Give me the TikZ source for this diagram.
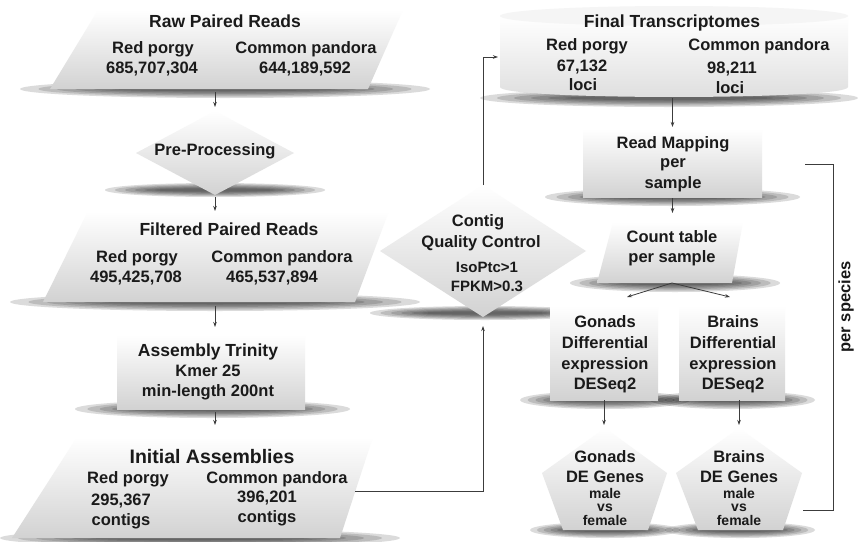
\documentclass[tikz,border=0pt]{standalone}
\usepackage{fontspec}
\setmainfont{Liberation Sans}
\usetikzlibrary{arrows.meta}
\definecolor{ink}{HTML}{1A1A1A}
\definecolor{fillbot}{HTML}{D2D2D2}
\definecolor{cyltop}{HTML}{F5F5F5}
\newcommand{\softshade}[4]{%
  \foreach \k in {0,...,5}{%
    \fill[black, opacity=0.14] ({(#1+#2)/2},#3) ellipse [x radius={(#2-#1)/2*(1-0.09*\k)}, y radius={#4*(1-0.15*\k)}];
  }%
}
\tikzset{
  bb/.style={inner sep=0pt, outer sep=0pt, draw=none},
  tx/.style={anchor=base, text=ink, inner sep=0pt, font=\fontsize{16.5}{18}\selectfont\bfseries},
  ttl/.style={tx, font=\fontsize{17.5}{19}\selectfont\bfseries},
  bigttl/.style={tx, font=\fontsize{19.5}{21}\selectfont\bfseries},
  sm/.style={tx, font=\fontsize{15}{17}\selectfont\bfseries},
  tiny/.style={tx, font=\fontsize{14}{15}\selectfont\bfseries},
  surf/.style={top color=white, bottom color=fillbot},
  conn/.style={draw=ink!85, line width=0.8pt, -{Stealth[length=5pt,width=3.5pt]}},
  plainline/.style={draw=ink!85, line width=0.8pt},
}
\begin{document}
\begin{tikzpicture}[x=1pt,y=-1pt]
\useasboundingbox (0,0) rectangle (858,541);
\fill[white] (0,0) rectangle (858,541);

% ---------- shadows ----------
\softshade{20}{430}{89}{9}
\softshade{105}{325}{190}{7}
\softshade{10}{420}{302}{9}
\softshade{75}{350}{409}{9}
\softshade{0}{400}{538}{9}
\softshade{370}{600}{313}{7}
\softshade{480}{858}{98}{9}
\softshade{545}{800}{197}{9}
\softshade{570}{780}{283}{9}
\softshade{520}{690}{400}{9}
\softshade{650}{815}{400}{9}
\softshade{530}{680}{530}{8}
\softshade{665}{815}{530}{8}

% ---------- shapes ----------
\shade[surf] (98,10) -- (403,10) -- (368,89) -- (50,89) -- cycle;
\shade[surf] (215,111) -- (294,153) -- (215,195) -- (136,153) -- cycle;
\shade[surf] (88,211) -- (389,211) -- (355,302) -- (43,302) -- cycle;
\shade[surf] (117,335) rectangle (305,409);
\shade[surf] (77,437) -- (373,437) -- (340,538) -- (12,538) -- cycle;
\shade[surf] (483,185) -- (586,251) -- (483,317) -- (380,251) -- cycle;
\shade[top color=white, bottom color=black!13] (500,16) -- (500,87) .. controls (500,100.3) and (848,100.3) .. (848,87) -- (848,16) -- cycle;
\fill[cyltop] (674,16) ellipse [x radius=174, y radius=10];
\shade[surf] (583,129) rectangle (762,197);
\shade[surf] (613,222) -- (743,222) -- (732,283) -- (597,283) -- cycle;
\shade[surf] (550,305) rectangle (658,400);
\shade[surf] (679,305) rectangle (785,400);
\shade[surf] (605,428) -- (667,473) -- (648,530) -- (563,530) -- (542,473) -- cycle;
\shade[surf] (739,428) -- (802,473) -- (783,530) -- (698,530) -- (676,473) -- cycle;

% ---------- frame nodes ----------
\node[bb, minimum width=353pt, minimum height=80pt] (raw) at (226,50) {};
\node[bb, minimum width=158pt, minimum height=84pt] (pre) at (215,153) {};
\node[bb, minimum width=346pt, minimum height=92pt] (filt) at (216,257) {};
\node[bb, minimum width=188pt, minimum height=74pt] (asm) at (211,372) {};
\node[bb, minimum width=361pt, minimum height=101pt] (init) at (192.5,487.5) {};
\node[bb, minimum width=206pt, minimum height=132pt] (qc) at (483,251) {};
\node[bb, minimum width=348pt, minimum height=92pt] (final) at (674,52) {};
\node[bb, minimum width=179pt, minimum height=68pt] (rm) at (672.5,163) {};
\node[bb, minimum width=146pt, minimum height=61pt] (ct) at (672,252.5) {};
\node[bb, minimum width=108pt, minimum height=95pt] (gon) at (604,352.5) {};
\node[bb, minimum width=106pt, minimum height=95pt] (brn) at (732,352.5) {};
\node[bb, minimum width=125pt, minimum height=102pt] (gdeg) at (604.5,479) {};
\node[bb, minimum width=126pt, minimum height=102pt] (bdeg) at (739,479) {};

% ---------- texts ----------
\node[ttl] (rawt) at (225,27) {Raw Paired Reads};
\node[tx] (rawa1) at (153,53) {Red porgy};
\node[tx] (rawa2) at (152,73) {685,707,304};
\node[tx] (rawb1) at (306,53) {Common pandora};
\node[tx] (rawb2) at (305,73) {644,189,592};

\node[tx] (pret) at (215,155) {Pre-Processing};

\node[ttl] (filtt) at (229,235) {Filtered Paired Reads};
\node[tx] (filta1) at (137,262) {Red porgy};
\node[tx] (filta2) at (136,282) {495,425,708};
\node[tx] (filtb1) at (282,262) {Common pandora};
\node[tx] (filtb2) at (272,282) {465,537,894};

\node[ttl] (asmt) at (208,356) {Assembly Trinity};
\node[tx] (asm1) at (208,376) {Kmer 25};
\node[tx] (asm2) at (208,396) {min-length 200nt};

\node[bigttl] (initt) at (212,463) {Initial Assemblies};
\node[tx] (inita1) at (128,483) {Red porgy};
\node[tx] (inita2) at (121,505) {295,367};
\node[tx] (inita3) at (121,525) {contigs};
\node[tx] (initb1) at (277,483) {Common pandora};
\node[tx] (initb2) at (267,502) {396,201};
\node[tx] (initb3) at (267,522) {contigs};

\node[tx] (qc1) at (478,226) {Contig};
\node[tx] (qc2) at (481,247) {Quality Control};
\node[sm] (qc3) at (487,272) {IsoPtc>1};
\node[sm] (qc4) at (487,291) {FPKM>0.3};

\node[ttl] (finalt) at (672,27) {Final Transcriptomes};
\node[tx] (finala1) at (587,50) {Red porgy};
\node[tx] (finala2) at (582,71) {67,132};
\node[tx] (finala3) at (583,90) {loci};
\node[tx] (finalb1) at (759,50) {Common pandora};
\node[tx] (finalb2) at (732,73) {98,211};
\node[tx] (finalb3) at (730,93) {loci};

\node[tx] (rm1) at (673,148) {Read Mapping};
\node[tx] (rm2) at (673,167) {per};
\node[tx] (rm3) at (673,188) {sample};

\node[tx] (ct1) at (672,242) {Count table};
\node[tx] (ct2) at (672,262) {per sample};

\node[tx] (gon1) at (605,327) {Gonads};
\node[tx] (gon2) at (605,348) {Differential};
\node[tx] (gon3) at (605,369) {expression};
\node[tx] (gon4) at (605,389) {DESeq2};

\node[tx] (brn1) at (733,327) {Brains};
\node[tx] (brn2) at (733,348) {Differential};
\node[tx] (brn3) at (733,369) {expression};
\node[tx] (brn4) at (733,389) {DESeq2};

\node[tx] (gdeg1) at (605,462) {Gonads};
\node[tx] (gdeg2) at (605,482) {DE Genes};
\node[tiny] (gdeg3) at (605,498) {male};
\node[tiny] (gdeg4) at (605,511) {vs};
\node[tiny] (gdeg5) at (605,525) {female};

\node[tx] (bdeg1) at (739,462) {Brains};
\node[tx] (bdeg2) at (739,482) {DE Genes};
\node[tiny] (bdeg3) at (739,498) {male};
\node[tiny] (bdeg4) at (739,511) {vs};
\node[tiny] (bdeg5) at (739,525) {female};

\node[tx, anchor=center, rotate=90] (spec) at (846,307) {per species};

% ---------- connectors ----------
\coordinate (initout) at (355,491);
\coordinate (finalin) at (498,57);
\coordinate (gonin) at (627,297);
\coordinate (brnin) at (730,297);
\coordinate (brtop) at (805,164);
\coordinate (brbot) at (803,510);

\draw[conn, shorten <=2pt, shorten >=4pt] (raw.south -| pre.north) -- (pre.north);
\draw[conn, shorten <=2pt] (pre.south) -- (pre.south |- filt.north);
\draw[conn, shorten <=3pt, shorten >=8pt] (pre.south |- filt.south) -- (pre.south |- asm.north);
\draw[conn, shorten <=3pt, shorten >=12pt] (pre.south |- asm.south) -- (pre.south |- init.north);
\draw[conn, shorten >=9pt] (initout) -| (qc.south);
\draw[conn] (qc.north) |- (finalin);
\draw[conn, shorten >=2pt] (final.south -| rm.north) -- (rm.north);
\draw[conn, shorten <=1pt, shorten >=9pt] (rm.south) -- (rm.south |- ct.north);
\draw[conn] (ct.south) -- (gonin);
\draw[conn] (ct.south) -- (brnin);
\draw[conn, shorten >=3pt] (gon.south) -- (gon.south |- gdeg.north);
\draw[conn, shorten >=3pt] (brn.south -| bdeg.north) -- (bdeg.north);
\draw[plainline] (brtop) -- ++(28,0) |- (brbot);
\end{tikzpicture}
\end{document}
